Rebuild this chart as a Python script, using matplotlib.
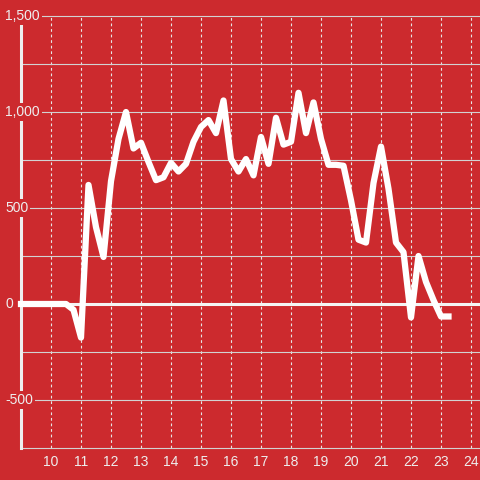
import matplotlib
matplotlib.use('Agg')
import matplotlib.pyplot as plt
import matplotlib.transforms as mtransforms
import numpy as np

# Data: one value every quarter unit from 9 to 23.25
x_start = 9.0
x_step = 0.25
values = [0, 0, 0, 0, 0, 0, 0, -30, -175, 620, 400, 245, 640, 860, 1000,
          810, 840, 740, 645, 660, 735, 690, 730, 845, 922, 958, 890, 1060,
          755, 690, 755, 670, 870, 730, 970, 830, 845, 1100, 890, 1050, 860,
          725, 725, 720, 540, 335, 320, 630, 820, 600, 320, 270, -70, 250,
          115, 20, -65, -65]
x_values = [x_start + i * x_step for i in range(len(values))]

x_ticks = list(range(10, 25))
x_tick_labels = [str(t) for t in x_ticks]
y_grid = [-750, -500, -250, 0, 250, 500, 750, 1000, 1250, 1500]
y_label_values = [-500, 0, 500, 1000, 1500]
y_label_texts = ['-500', '0', '500', '1,000', '1,500']

RED = '#CC2A2E'
TEXT = '#eeeeee'
GRID = '#d2d2d2'

plt.rcParams['font.family'] = ['Liberation Sans', 'DejaVu Sans']

fig = plt.figure(figsize=(4.8, 4.8), dpi=100, facecolor=RED)
ax = fig.add_axes([21 / 480, 32 / 480, 459 / 480, 432 / 480])
ax.set_facecolor(RED)
ax.set_xlim(9, 24.3)
ax.set_ylim(-750, 1500)

for side in ['top', 'right', 'bottom']:
    ax.spines[side].set_visible(False)
ax.spines['left'].set_color('#eeeeee')
ax.spines['left'].set_linewidth(2.2)
ax.spines['left'].set_zorder(2.5)

# horizontal grid
for level in y_grid:
    if level == 0:
        ax.axhline(level, color='#f4f4f4', lw=2.2, zorder=2, clip_on=False)
    else:
        ax.axhline(level, color=GRID, lw=0.8, zorder=1, clip_on=False)

# x axis ticks + dotted vertical grid
ax.set_xticks(x_ticks)
ax.set_xticklabels(x_tick_labels)
ax.tick_params(axis='x', length=0, pad=5, colors=TEXT, labelsize=10)
ax.xaxis.grid(True, color='#e6e6e6', lw=0.8, linestyle=(0, (2.5, 2.5)))
ax.set_axisbelow(True)
ax.set_yticks([])

# y labels sit over the spine with a red background
trans = mtransforms.blended_transform_factory(fig.transFigure, ax.transData)
for val, txt in zip(y_label_values, y_label_texts):
    ax.text(5 / 480, val, txt, transform=trans, ha='left', va='center',
            color=TEXT, fontsize=10, zorder=3, clip_on=False,
            bbox=dict(boxstyle='square,pad=0.15', fc=RED, ec='none'))

ax.plot(x_values, values, color='white', lw=4.5, zorder=4, clip_on=False,
        solid_capstyle='projecting', solid_joinstyle='round')

fig.savefig('out.png', dpi=100, facecolor=RED)
